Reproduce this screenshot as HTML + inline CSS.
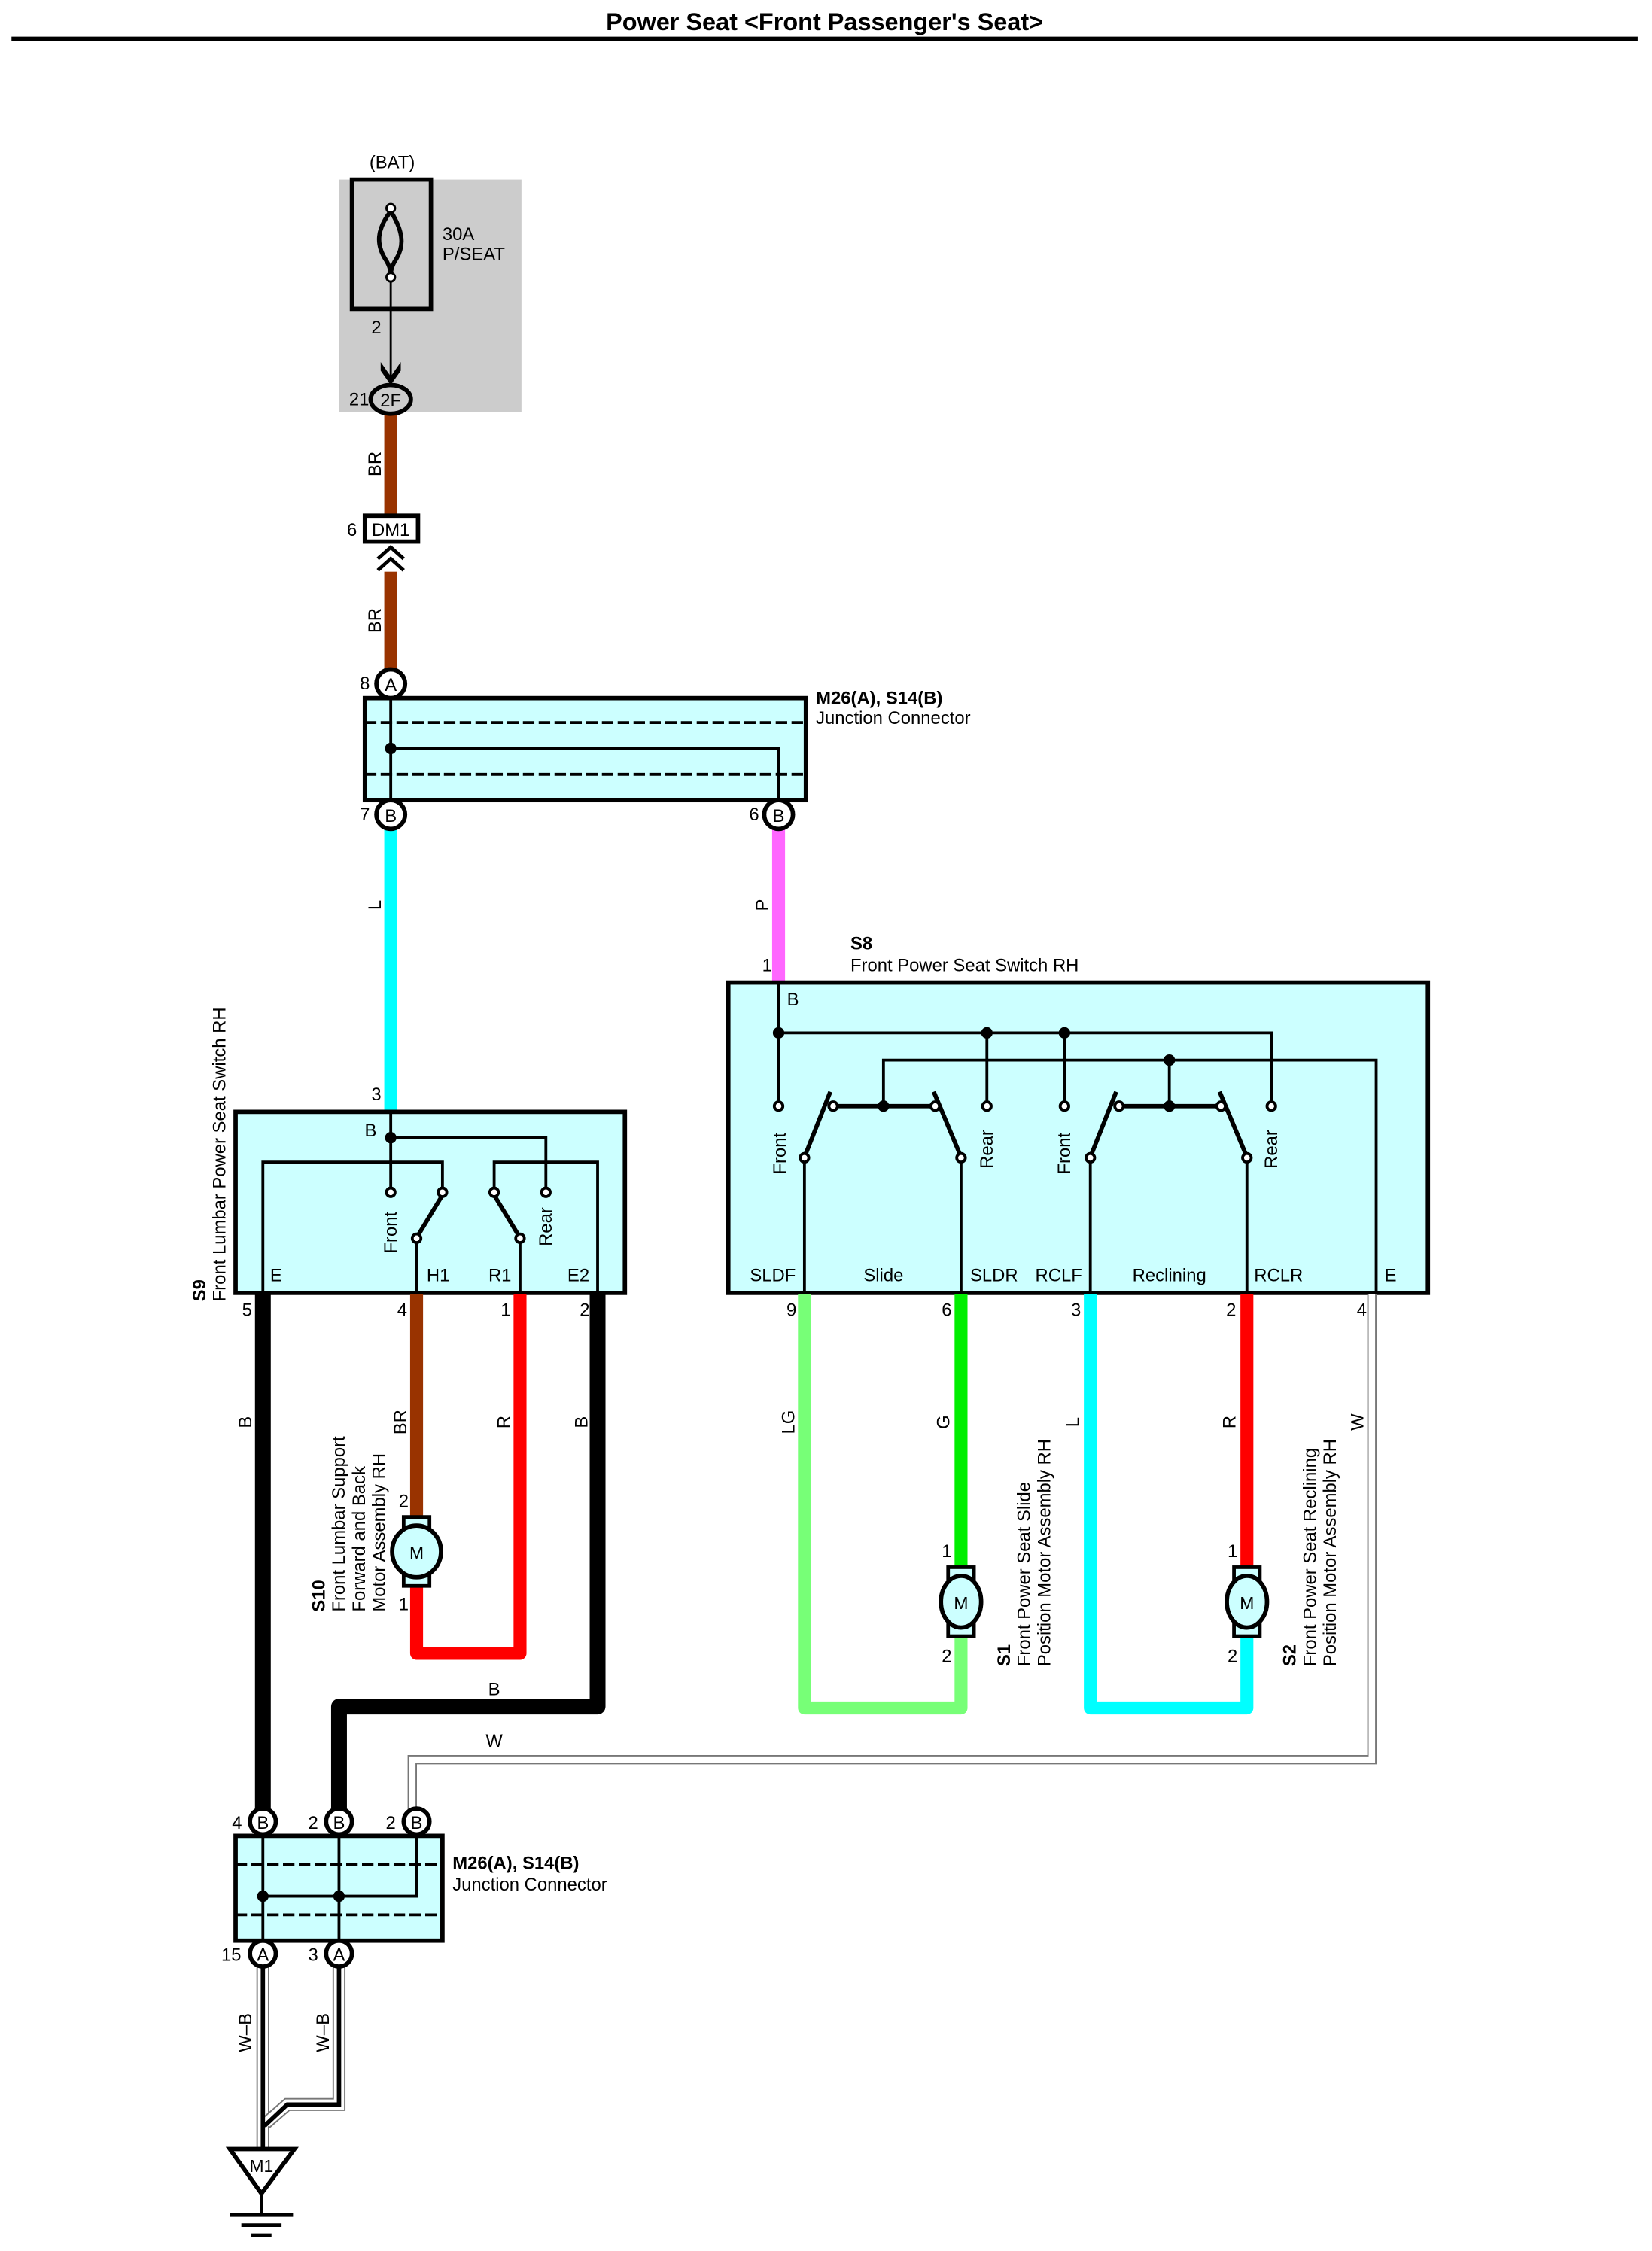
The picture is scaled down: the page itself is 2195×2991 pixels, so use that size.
<!DOCTYPE html>
<html><head><meta charset="utf-8"><style>
html,body{margin:0;padding:0;background:#fff;}
svg{display:block;}
text{font-family:"Liberation Sans",sans-serif;fill:#000;}
</style></head><body>
<svg width="2195" height="2991" viewBox="0 0 1150 1567" preserveAspectRatio="none" xmlns="http://www.w3.org/2000/svg">
<rect x="0" y="0" width="1150" height="1567" fill="#fff"/>
<text x="574" y="21" font-size="17" font-weight="bold" text-anchor="middle">Power Seat &lt;Front Passenger's Seat&gt;</text>
<line x1="8" y1="27" x2="1140" y2="27" stroke="#000" stroke-width="3"/>

<!-- BAT fuse -->
<rect x="236" y="125" width="127" height="162" fill="#cccccc"/>
<text x="273" y="117" font-size="12.5" text-anchor="middle">(BAT)</text>
<rect x="245" y="125" width="55" height="90" fill="none" stroke="#000" stroke-width="3"/>
<path d="M272,147 C262,160 262,170 268,180 C272,186 272,190 272,192 M272,147 C280,160 282,170 276,180 C272,186 272,190 272,192" fill="none" stroke="#000" stroke-width="3"/>
<circle cx="272" cy="145" r="3" fill="#fff" stroke="#000" stroke-width="1.5"/>
<circle cx="272" cy="193" r="3" fill="#fff" stroke="#000" stroke-width="1.5"/>
<text x="308" y="167" font-size="12.5">30A</text>
<text x="308" y="181" font-size="12.5">P/SEAT</text>
<text x="262" y="232" font-size="12.5" text-anchor="middle">2</text>
<line x1="272" y1="196" x2="272" y2="264" stroke="#000" stroke-width="1.5"/>
<path d="M265,252 L272,262 L279,252 L279,258 L272,268 L265,258 Z" fill="#000"/>

<!-- BR wire -->
<rect x="267.5" y="288" width="9" height="70" fill="#993300"/>
<rect x="267.5" y="398" width="9" height="69" fill="#993300"/>
<ellipse cx="272" cy="278" rx="14" ry="10" fill="#ccc" stroke="#000" stroke-width="3"/>
<text x="272" y="283" font-size="12.5" text-anchor="middle">2F</text>
<text x="250" y="282" font-size="12.5" text-anchor="middle">21</text>
<text transform="translate(265,323) rotate(-90)" font-size="12.5" text-anchor="middle">BR</text>
<rect x="254" y="359" width="37" height="18" fill="#fff" stroke="#000" stroke-width="3"/>
<text x="272" y="373" font-size="12.5" text-anchor="middle">DM1</text>
<text x="245" y="373" font-size="12.5" text-anchor="middle">6</text>
<path d="M263,389 L272,381 L281,389 M263,397 L272,389 L281,397" fill="none" stroke="#000" stroke-width="2.5"/>
<text transform="translate(265,432) rotate(-90)" font-size="12.5" text-anchor="middle">BR</text>

<!-- top junction -->
<rect x="254" y="486" width="307" height="71" fill="#ccffff" stroke="#000" stroke-width="3"/>
<line x1="254" y1="503" x2="561" y2="503" stroke="#000" stroke-width="2" stroke-dasharray="8,3"/>
<line x1="254" y1="539" x2="561" y2="539" stroke="#000" stroke-width="2" stroke-dasharray="8,3"/>
<line x1="272" y1="476" x2="272" y2="567" stroke="#000" stroke-width="2"/>
<polyline points="272,521 542,521 542,567" fill="none" stroke="#000" stroke-width="2"/>
<circle cx="272" cy="521" r="4" fill="#000"/>
<circle cx="272" cy="476" r="10" fill="#fff" stroke="#000" stroke-width="3"/>
<text x="272" y="481" font-size="12.5" text-anchor="middle">A</text>
<text x="254" y="480" font-size="12.5" text-anchor="middle">8</text>
<text x="568" y="490" font-size="12.5" font-weight="bold">M26(A), S14(B)</text>
<text x="568" y="504" font-size="12.5">Junction Connector</text>

<!-- L and P wires -->
<rect x="267.5" y="577" width="9" height="197" fill="#00ffff"/>
<rect x="537.5" y="577" width="9" height="107" fill="#ff66ff"/>
<circle cx="272" cy="567" r="10" fill="#fff" stroke="#000" stroke-width="3"/>
<text x="272" y="572" font-size="12.5" text-anchor="middle">B</text>
<text x="254" y="571" font-size="12.5" text-anchor="middle">7</text>
<circle cx="542" cy="567" r="10" fill="#fff" stroke="#000" stroke-width="3"/>
<text x="542" y="572" font-size="12.5" text-anchor="middle">B</text>
<text x="525" y="571" font-size="12.5" text-anchor="middle">6</text>
<text transform="translate(265,630) rotate(-90)" font-size="12.5" text-anchor="middle">L</text>
<text transform="translate(535,630) rotate(-90)" font-size="12.5" text-anchor="middle">P</text>
<text x="534" y="676" font-size="12.5" text-anchor="middle">1</text>
<text x="592" y="661" font-size="12.5" font-weight="bold">S8</text>
<text x="592" y="676" font-size="12.5">Front Power Seat Switch RH</text>
<text x="262" y="766" font-size="12.5" text-anchor="middle">3</text>

<!-- S9 switch -->
<rect x="164" y="774" width="271" height="126" fill="#ccffff" stroke="#000" stroke-width="3"/>
<g fill="none" stroke="#000" stroke-width="2">
<polyline points="272,774 272,827"/>
<polyline points="272,792 380,792 380,827"/>
<polyline points="183,900 183,809 308,809 308,827"/>
<polyline points="416,900 416,809 344,809 344,827"/>
<line x1="290" y1="900" x2="290" y2="865"/>
<line x1="362" y1="900" x2="362" y2="865"/>
</g>
<g stroke="#000" stroke-width="3"><line x1="291" y1="860" x2="308" y2="832"/><line x1="344" y1="832" x2="361" y2="860"/></g>
<circle cx="272" cy="792" r="4" fill="#000"/>
<g fill="#fff" stroke="#000" stroke-width="2">
<circle cx="272" cy="830" r="3"/><circle cx="380" cy="830" r="3"/><circle cx="308" cy="830" r="3"/><circle cx="344" cy="830" r="3"/><circle cx="290" cy="862" r="3"/><circle cx="362" cy="862" r="3"/>
</g>
<text x="258" y="791" font-size="12.5" text-anchor="middle">B</text>
<text transform="translate(276,858) rotate(-90)" font-size="12.5" text-anchor="middle">Front</text>
<text transform="translate(384,854) rotate(-90)" font-size="12.5" text-anchor="middle">Rear</text>
<text x="188" y="892" font-size="12.5">E</text>
<text x="297" y="892" font-size="12.5">H1</text>
<text x="340" y="892" font-size="12.5">R1</text>
<text x="395" y="892" font-size="12.5">E2</text>
<text transform="translate(143,906) rotate(-90)" font-size="12.5" font-weight="bold">S9</text>
<text transform="translate(157,906) rotate(-90)" font-size="12.5">Front Lumbar Power Seat Switch RH</text>
<text x="172" y="916" font-size="12.5" text-anchor="middle">5</text>
<text x="280" y="916" font-size="12.5" text-anchor="middle">4</text>
<text x="352" y="916" font-size="12.5" text-anchor="middle">1</text>
<text x="407" y="916" font-size="12.5" text-anchor="middle">2</text>

<!-- S9 wires -->
<line x1="183" y1="901" x2="183" y2="1268" stroke="#000" stroke-width="11"/>
<polyline points="416,901 416,1188 236,1188 236,1268" fill="none" stroke="#000" stroke-width="11" stroke-linejoin="round"/>
<line x1="290" y1="901" x2="290" y2="1060" stroke="#993300" stroke-width="9"/>
<polyline points="362,901 362,1151 290,1151 290,1100" fill="none" stroke="#ff0000" stroke-width="9" stroke-linejoin="round"/>
<text transform="translate(175,990) rotate(-90)" font-size="12.5" text-anchor="middle">B</text>
<text transform="translate(409,990) rotate(-90)" font-size="12.5" text-anchor="middle">B</text>
<text transform="translate(283,990) rotate(-90)" font-size="12.5" text-anchor="middle">BR</text>
<text transform="translate(355,990) rotate(-90)" font-size="12.5" text-anchor="middle">R</text>
<text x="344" y="1180" font-size="12.5" text-anchor="middle">B</text>
<!-- S10 motor -->
<rect x="281" y="1056" width="18" height="8" fill="#ccffff" stroke="#000" stroke-width="2.5"/>
<rect x="281" y="1096" width="18" height="8" fill="#ccffff" stroke="#000" stroke-width="2.5"/>
<ellipse cx="290" cy="1080" rx="17" ry="18" fill="#ccffff" stroke="#000" stroke-width="3"/>
<text x="290" y="1085" font-size="12" text-anchor="middle">M</text>
<text x="281" y="1049" font-size="12.5" text-anchor="middle">2</text>
<text x="281" y="1121" font-size="12.5" text-anchor="middle">1</text>
<text transform="translate(226,1122) rotate(-90)" font-size="12.5" font-weight="bold">S10</text>
<text transform="translate(240,1122) rotate(-90)" font-size="12.5">Front Lumbar Support</text>
<text transform="translate(254,1122) rotate(-90)" font-size="12.5">Forward and Back</text>
<text transform="translate(268,1122) rotate(-90)" font-size="12.5">Motor Assembly RH</text>

<!-- S8 switch -->
<rect x="507" y="684" width="487" height="216" fill="#ccffff" stroke="#000" stroke-width="3"/>
<g fill="none" stroke="#000" stroke-width="2">
<polyline points="542,684 542,767"/>
<polyline points="542,719 885,719 885,767"/>
<line x1="687" y1="719" x2="687" y2="767"/>
<line x1="741" y1="719" x2="741" y2="767"/>
<polyline points="615,770 615,738 958,738 958,900"/>
<line x1="814" y1="738" x2="814" y2="770"/>
<line x1="579" y1="770" x2="651" y2="770" stroke-width="3"/>
<line x1="778" y1="770" x2="850" y2="770" stroke-width="3"/>
<line x1="560" y1="809" x2="560" y2="900"/>
<line x1="669" y1="809" x2="669" y2="900"/>
<line x1="759" y1="809" x2="759" y2="900"/>
<line x1="868" y1="809" x2="868" y2="900"/>
</g>
<g stroke="#000" stroke-width="3">
<line x1="561" y1="803" x2="578" y2="760"/><line x1="650" y1="760" x2="668" y2="803"/>
<line x1="760" y1="803" x2="777" y2="760"/><line x1="849" y1="760" x2="867" y2="803"/>
</g>
<g fill="#000"><circle cx="542" cy="719" r="4"/><circle cx="687" cy="719" r="4"/><circle cx="741" cy="719" r="4"/><circle cx="814" cy="738" r="4"/><circle cx="615" cy="770" r="4"/><circle cx="814" cy="770" r="4"/></g>
<g fill="#fff" stroke="#000" stroke-width="2">
<circle cx="542" cy="770" r="3"/><circle cx="687" cy="770" r="3"/><circle cx="741" cy="770" r="3"/><circle cx="885" cy="770" r="3"/>
<circle cx="580" cy="770" r="3"/><circle cx="651" cy="770" r="3"/><circle cx="779" cy="770" r="3"/><circle cx="850" cy="770" r="3"/>
<circle cx="560" cy="806" r="3"/><circle cx="669" cy="806" r="3"/><circle cx="759" cy="806" r="3"/><circle cx="868" cy="806" r="3"/>
</g>
<text x="552" y="700" font-size="12.5" text-anchor="middle">B</text>
<text transform="translate(547,803) rotate(-90)" font-size="12.5" text-anchor="middle">Front</text>
<text transform="translate(691,800) rotate(-90)" font-size="12.5" text-anchor="middle">Rear</text>
<text transform="translate(745,803) rotate(-90)" font-size="12.5" text-anchor="middle">Front</text>
<text transform="translate(889,800) rotate(-90)" font-size="12.5" text-anchor="middle">Rear</text>
<text x="538" y="892" font-size="12.5" text-anchor="middle">SLDF</text>
<text x="615" y="892" font-size="12.5" text-anchor="middle">Slide</text>
<text x="692" y="892" font-size="12.5" text-anchor="middle">SLDR</text>
<text x="737" y="892" font-size="12.5" text-anchor="middle">RCLF</text>
<text x="814" y="892" font-size="12.5" text-anchor="middle">Reclining</text>
<text x="890" y="892" font-size="12.5" text-anchor="middle">RCLR</text>
<text x="968" y="892" font-size="12.5" text-anchor="middle">E</text>
<text x="551" y="916" font-size="12.5" text-anchor="middle">9</text>
<text x="659" y="916" font-size="12.5" text-anchor="middle">6</text>
<text x="749" y="916" font-size="12.5" text-anchor="middle">3</text>
<text x="857" y="916" font-size="12.5" text-anchor="middle">2</text>
<text x="948" y="916" font-size="12.5" text-anchor="middle">4</text>

<!-- S8 wires -->
<polyline points="560,901 560,1189 669,1189 669,1135" fill="none" stroke="#77ff77" stroke-width="9" stroke-linejoin="round"/>
<line x1="669" y1="901" x2="669" y2="1095" stroke="#00ee00" stroke-width="9"/>
<polyline points="759,901 759,1189 868,1189 868,1135" fill="none" stroke="#00ffff" stroke-width="9" stroke-linejoin="round"/>
<line x1="868" y1="901" x2="868" y2="1095" stroke="#ff0000" stroke-width="9"/>
<polyline points="955,901 955,1225 287,1225 287,1268" fill="none" stroke="#777" stroke-width="6.5"/>
<polyline points="955,901 955,1225 287,1225 287,1268" fill="none" stroke="#fff" stroke-width="4.5"/>
<text transform="translate(553,990) rotate(-90)" font-size="12.5" text-anchor="middle">LG</text>
<text transform="translate(661,990) rotate(-90)" font-size="12.5" text-anchor="middle">G</text>
<text transform="translate(751,990) rotate(-90)" font-size="12.5" text-anchor="middle">L</text>
<text transform="translate(860,990) rotate(-90)" font-size="12.5" text-anchor="middle">R</text>
<text transform="translate(949,990) rotate(-90)" font-size="12.5" text-anchor="middle">W</text>
<text x="344" y="1216" font-size="12.5" text-anchor="middle">W</text>
<g>
<rect x="660" y="1091" width="18" height="8" fill="#ccffff" stroke="#000" stroke-width="2.5"/>
<rect x="660" y="1131" width="18" height="8" fill="#ccffff" stroke="#000" stroke-width="2.5"/>
<ellipse cx="669" cy="1115" rx="14" ry="18" fill="#ccffff" stroke="#000" stroke-width="3"/>
<text x="669" y="1120" font-size="12" text-anchor="middle">M</text>
<rect x="859" y="1091" width="18" height="8" fill="#ccffff" stroke="#000" stroke-width="2.5"/>
<rect x="859" y="1131" width="18" height="8" fill="#ccffff" stroke="#000" stroke-width="2.5"/>
<ellipse cx="868" cy="1115" rx="14" ry="18" fill="#ccffff" stroke="#000" stroke-width="3"/>
<text x="868" y="1120" font-size="12" text-anchor="middle">M</text>
</g>
<text x="659" y="1084" font-size="12.5" text-anchor="middle">1</text>
<text x="659" y="1157" font-size="12.5" text-anchor="middle">2</text>
<text x="858" y="1084" font-size="12.5" text-anchor="middle">1</text>
<text x="858" y="1157" font-size="12.5" text-anchor="middle">2</text>
<text transform="translate(703,1160) rotate(-90)" font-size="12.5" font-weight="bold">S1</text>
<text transform="translate(717,1160) rotate(-90)" font-size="12.5">Front Power Seat Slide</text>
<text transform="translate(731,1160) rotate(-90)" font-size="12.5">Position Motor Assembly RH</text>
<text transform="translate(902,1160) rotate(-90)" font-size="12.5" font-weight="bold">S2</text>
<text transform="translate(916,1160) rotate(-90)" font-size="12.5">Front Power Seat Reclining</text>
<text transform="translate(930,1160) rotate(-90)" font-size="12.5">Position Motor Assembly RH</text>

<!-- bottom junction -->
<rect x="164" y="1278" width="144" height="73" fill="#ccffff" stroke="#000" stroke-width="3"/>
<line x1="164" y1="1298" x2="308" y2="1298" stroke="#000" stroke-width="2" stroke-dasharray="8,3"/>
<line x1="164" y1="1333" x2="308" y2="1333" stroke="#000" stroke-width="2" stroke-dasharray="8,3"/>
<line x1="183" y1="1268" x2="183" y2="1360" stroke="#000" stroke-width="2"/>
<line x1="236" y1="1268" x2="236" y2="1360" stroke="#000" stroke-width="2"/>
<polyline points="183,1320 290,1320 290,1268" fill="none" stroke="#000" stroke-width="2"/>
<circle cx="183" cy="1320" r="4" fill="#000"/><circle cx="236" cy="1320" r="4" fill="#000"/>
<g fill="#fff" stroke="#000" stroke-width="3">
<circle cx="183" cy="1268" r="9"/><circle cx="236" cy="1268" r="9"/><circle cx="290" cy="1268" r="9"/>
</g>
<text x="183" y="1273" font-size="12.5" text-anchor="middle">B</text>
<text x="236" y="1273" font-size="12.5" text-anchor="middle">B</text>
<text x="290" y="1273" font-size="12.5" text-anchor="middle">B</text>
<text x="165" y="1273" font-size="12.5" text-anchor="middle">4</text>
<text x="218" y="1273" font-size="12.5" text-anchor="middle">2</text>
<text x="272" y="1273" font-size="12.5" text-anchor="middle">2</text>
<text x="315" y="1301" font-size="12.5" font-weight="bold">M26(A), S14(B)</text>
<text x="315" y="1316" font-size="12.5">Junction Connector</text>

<!-- W-B wires -->
<g fill="none" stroke-linejoin="miter">
<line x1="183" y1="1360" x2="183" y2="1496" stroke="#777" stroke-width="9"/>
<line x1="183" y1="1360" x2="183" y2="1496" stroke="#fff" stroke-width="7"/>
<polyline points="236,1360 236,1465 200,1465 185,1478" stroke="#777" stroke-width="9"/>
<polyline points="236,1360 236,1465 200,1465 185,1478" stroke="#fff" stroke-width="7"/>
<line x1="183" y1="1360" x2="183" y2="1496" stroke="#000" stroke-width="3"/>
<polyline points="236,1360 236,1465 200,1465 184,1480" stroke="#000" stroke-width="3"/>
</g>
<g fill="#fff" stroke="#000" stroke-width="3">
<circle cx="183" cy="1360" r="9"/><circle cx="236" cy="1360" r="9"/>
</g>
<text x="183" y="1365" font-size="12.5" text-anchor="middle">A</text>
<text x="236" y="1365" font-size="12.5" text-anchor="middle">A</text>
<text x="161" y="1365" font-size="12.5" text-anchor="middle">15</text>
<text x="218" y="1365" font-size="12.5" text-anchor="middle">3</text>
<text transform="translate(175,1415) rotate(-90)" font-size="12.5" text-anchor="middle">W–B</text>
<text transform="translate(229,1415) rotate(-90)" font-size="12.5" text-anchor="middle">W–B</text>
<path d="M160,1496 L205,1496 L182,1527 Z" fill="#fff" stroke="#000" stroke-width="3"/>
<text x="182" y="1512" font-size="12" text-anchor="middle">M1</text>
<line x1="182" y1="1527" x2="182" y2="1542" stroke="#000" stroke-width="2.5"/>
<line x1="160" y1="1542" x2="204" y2="1542" stroke="#000" stroke-width="2.5"/>
<line x1="168" y1="1549" x2="196" y2="1549" stroke="#000" stroke-width="2.5"/>
<line x1="175" y1="1556" x2="189" y2="1556" stroke="#000" stroke-width="2.5"/>
</svg>
</body></html>
